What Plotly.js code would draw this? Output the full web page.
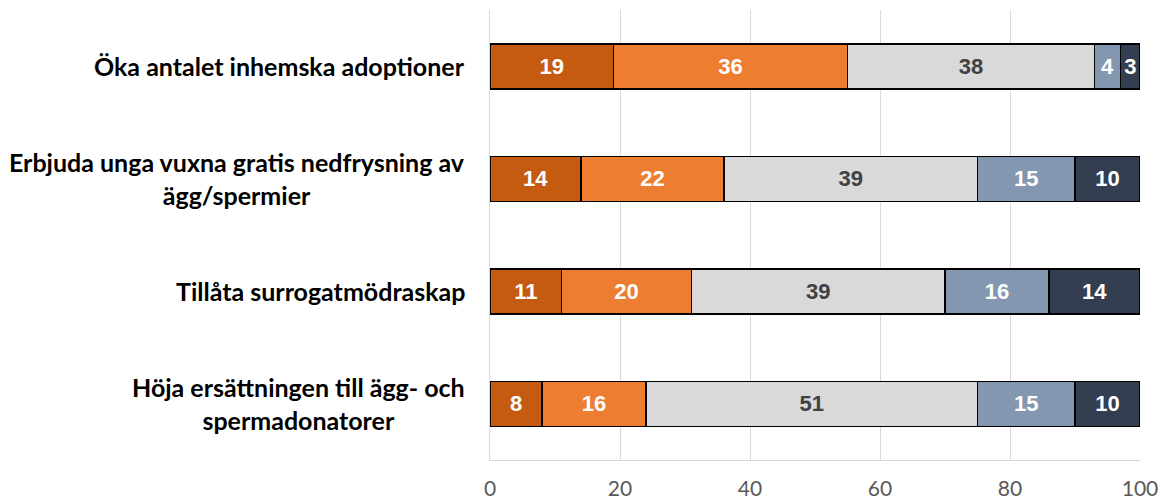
<!DOCTYPE html>
<html>
<head>
<meta charset="utf-8">
<script src="https://cdn.plot.ly/plotly-3.0.1.min.js"></script>
<style>html,body{margin:0;padding:0;background:#fff;}#chart{width:1165px;height:500px;}</style>
</head>
<body>
<div id="chart"></div>
<script>
const categories = [
  "Öka antalet inhemska adoptioner",
  "Erbjuda unga vuxna gratis nedfrysning av<br>ägg/spermier",
  "Tillåta surrogatmödraskap",
  "Höja ersättningen till ägg- och<br>spermadonatorer"
];
const seriesNames = ["Mycket bra", "Ganska bra", "Varken bra eller dåligt", "Ganska dåligt", "Mycket dåligt"];
const s1 = [19, 14, 11, 8];
const s2 = [36, 22, 20, 16];
const s3 = [38, 39, 39, 51];
const s4 = [4, 15, 16, 15];
const s5 = [3, 10, 14, 10];
const xTicks = [0, 20, 40, 60, 80, 100];

const colors = ["#C55A11", "#ED7D31", "#D9D9D9", "#8497B0", "#333F50"];
const textColors = ["#FFFFFF", "#FFFFFF", "#404040", "#FFFFFF", "#FFFFFF"];
const allSeries = [s1, s2, s3, s4, s5];

const traces = allSeries.map((vals, i) => ({
  type: "bar",
  orientation: "h",
  name: seriesNames[i],
  y: categories,
  x: vals,
  text: vals.map(String),
  textposition: "inside",
  insidetextanchor: "middle",
  textangle: 0,
  constraintext: "none",
  textfont: {family: "'Liberation Sans Narrow', 'Arial Narrow', Arial, sans-serif", size: 22, color: textColors[i], weight: "bold"},
  marker: {color: colors[i], line: {color: "#000000", width: 1.5}},
  hoverinfo: "skip",
  showlegend: false
}));

const annotations = categories.map(c => ({
  xref: "paper", yref: "y",
  x: -0.035, y: c,
  xanchor: "right", yanchor: "middle",
  align: "center",
  text: "<b>" + c + "</b>",
  showarrow: false,
  font: {family: "Lato, 'Open Sans', sans-serif", size: 25, color: "#000000"}
}));

const layout = {
  width: 1165, height: 500,
  margin: {l: 490, r: 25, t: 10, b: 40},
  barmode: "stack",
  bargap: 0.6,
  paper_bgcolor: "#FFFFFF",
  plot_bgcolor: "#FFFFFF",
  xaxis: {
    range: [0, 100],
    tickvals: xTicks,
    ticktext: xTicks.map(String),
    showgrid: true, gridcolor: "#D9D9D9", gridwidth: 1,
    zeroline: false,
    showline: true, linecolor: "#D9D9D9", linewidth: 1,
    ticks: "", ticklabelstandoff: 10,
    tickfont: {family: "Lato, 'Open Sans', sans-serif", size: 21, color: "#595959"},
    fixedrange: true
  },
  yaxis: {
    autorange: "reversed",
    showticklabels: false,
    showgrid: false, zeroline: false,
    showline: true, linecolor: "#D9D9D9", linewidth: 1.5,
    ticks: "",
    fixedrange: true
  },
  annotations: annotations,
  showlegend: false
};

Plotly.newPlot("chart", traces, layout, {displayModeBar: false, staticPlot: true});
</script>
</body>
</html>
